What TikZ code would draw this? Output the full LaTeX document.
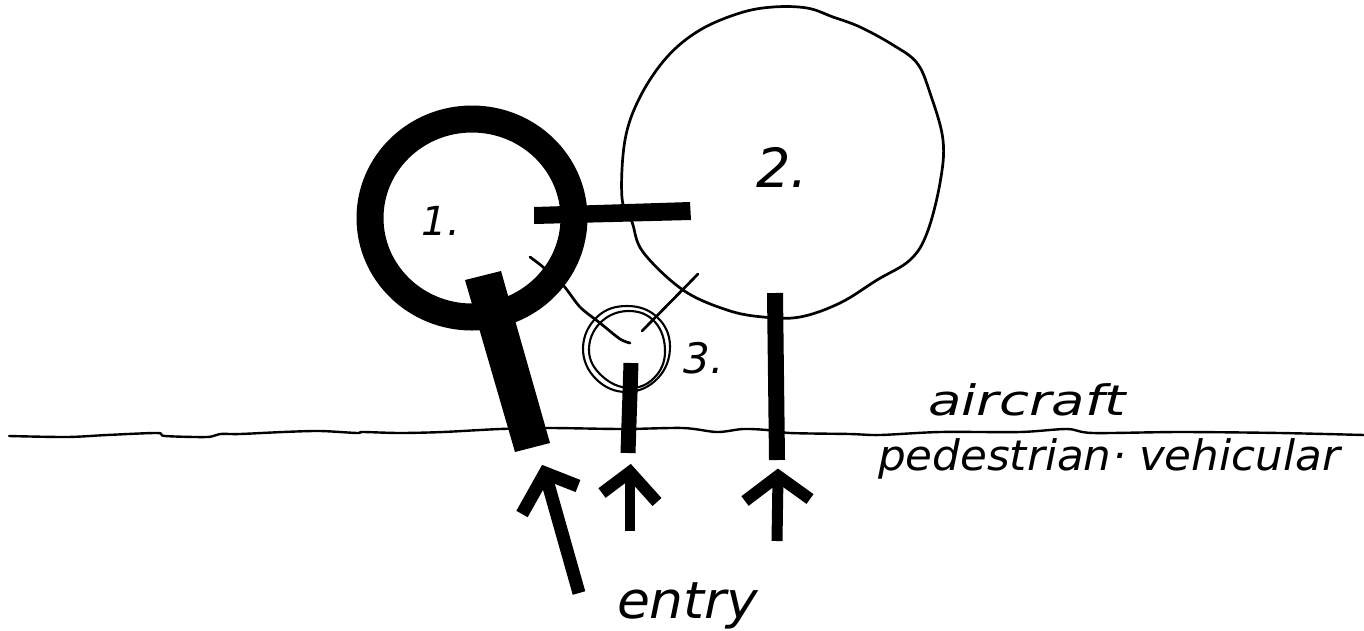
\documentclass[tikz,border=0pt]{standalone}
\usepackage{fontspec}
\setmainfont{DejaVu Sans}
\usepackage{graphicx}
\tikzset{
  ink/.style={line width=2.7pt, line cap=round, line join=round},
  finering/.style={line width=2.1pt, line join=round},
  heavyring/.style={line width=27pt},
  solidpart/.style={fill=black, draw=none},
  stemline/.style={line cap=butt},
  arrowstroke/.style={line width=12pt, line join=miter, line cap=butt},
  hand/.style={inner sep=0pt, outer sep=0pt, font=\itshape}
}
\begin{document}
\begin{tikzpicture}[x=1pt,y=-1pt]
\useasboundingbox (0,0) rectangle (1364,630);

% ground line
\draw[line width=2.4pt, line cap=round] plot[smooth, tension=0.5] coordinates {
 (9,436) (67,437) (107,435) (157,433) (165,436) (207,437) (220,434) (240,434)
 (283,432) (320,431) (357,433) (363,432) (400,433) (443,432) (500,429)
 (550,428) (623,429) (683,428) (717,432) (743,429) (767,430) (790,433)
 (850,434) (880,435) (940,432) (1020,432) (1067,429) (1093,433) (1180,432)
 (1280,433) (1364,435)};

% bubble 1 : heavy ring
\draw[heavyring] (472,218) ellipse [x radius=102pt, y radius=99pt];
\node[hand, font=\itshape\fontsize{40}{40}\selectfont] (l1) at (441,221) {1.};

% bubble 2
\draw[ink] plot[smooth cycle, tension=0.6] coordinates {
 (622,198) (625,140) (640,97) (667,57) (700,30) (740,13) (773,7) (807,8)
 (833,17) (860,27) (893,45) (917,63) (930,93) (943,140) (940,183) (927,233)
 (910,260) (877,280) (840,303) (800,317) (763,317) (727,310) (683,290)
 (643,252) (632,222)};
\node[hand, font=\itshape\fontsize{54}{54}\selectfont] (l2) at (782,167) {2.};

% bubble 3 : double fine ring
\draw[finering] plot[smooth cycle, tension=0.7] coordinates {
 (670,346) (658,378) (627,392) (596,379) (583,348) (597,317) (627,306) (657,317)};
\draw[finering] plot[smooth cycle, tension=0.7] coordinates {
 (665,352) (654,378) (629,388) (602,376) (589,351) (600,323) (628,311) (655,322)};
\node[hand, font=\itshape\fontsize{42}{42}\selectfont] (l3) at (704,358) {3.};

% connection 1-2 (heavy bar)
\fill[solidpart] (534,207) -- (690,202) -- (691,220) -- (534,224) -- cycle;

% connection 1-3 and 2-3 (thin lines)
\draw[ink] plot[smooth, tension=0.5] coordinates {
 (530,257) (543,267) (563,285) (580,307) (600,323) (620,339) (630,343)};
\draw[ink] (642,331) -- (698,274);

% stems
\fill[solidpart] (465,280) -- (501,271) -- (550,443) -- (515,452) -- cycle;
\draw[stemline, line width=15pt] (631,363) -- (628,453);
\draw[stemline, line width=16pt] (775,293) -- (777,460);

% entry arrows
\coordinate (ea) at (545,473);
\draw[arrowstroke, line width=13pt] (579,593) -- (ea);
\draw[arrowstroke, line width=13pt] (522,514) -- (ea) -- (578,486);

\coordinate (ma) at (630,472);
\draw[arrowstroke, line width=10pt] (630,531) -- (ma);
\draw[arrowstroke] (602,493) -- (ma) -- (657,502);

\coordinate (ra) at (778,476);
\draw[arrowstroke, line width=11pt] (777,541) -- (ra);
\draw[arrowstroke] (745,501) -- (ra) -- (810,499);

% texts
\node[hand, anchor=base west, font=\itshape\fontsize{42}{42}\selectfont] (air) at (928,415)
  {\scalebox{1.3}[1]{aircraft}};
\node[hand, anchor=base west, font=\itshape\fontsize{42}{42}\selectfont] (ped) at (878,470)
  {\scalebox{1.04}[1]{pedestrian\kern1pt·\kern12pt vehicular}};
\node[hand, anchor=base west, font=\itshape\fontsize{51}{51}\selectfont] (entry) at (617,618)
  {\scalebox{1.05}[1]{entry}};
\end{tikzpicture}
\end{document}
